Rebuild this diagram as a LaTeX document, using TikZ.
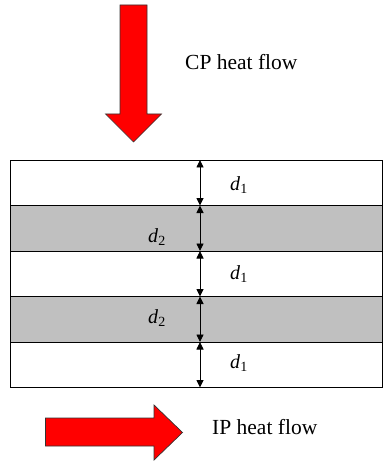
\documentclass[tikz,border=0pt]{standalone}
\usepackage{fontspec}
\setmainfont{Liberation Serif}
\usetikzlibrary{positioning,arrows.meta}
\definecolor{layergray}{RGB}{192,192,192}

\begin{document}
\begin{tikzpicture}[x=1pt,y=-1pt,
    layer/.style={draw,fill=#1,minimum width=372.5pt,minimum height=45.5pt,inner sep=0pt,outer sep=0pt,line width=0.8pt},
    dim/.style={{Triangle[length=7.5pt,width=7pt]}-{Triangle[length=7.5pt,width=7pt]},line width=0.9pt},
    flow/.style={fill=red,draw=black!80,line width=0.7pt},
    lbl/.style={font=\fontsize{20}{24}\selectfont,inner sep=0pt},
    caption/.style={font=\fontsize{21.5}{25}\selectfont,inner sep=0pt,anchor=base west}]
    \useasboundingbox (0,0) rectangle (382,462);

    % layers
    \node[layer=white] (l_1) at (196.25,182.75) {};
    \node[layer=layergray] [below=0pt of l_1] (l_2) {};
    \node[layer=white] [below=0pt of l_2] (l_3) {};
    \node[layer=layergray] [below=0pt of l_3] (l_4) {};
    \node[layer=white] [below=0pt of l_4] (l_5) {};

    % thickness arrows
    \coordinate (ax) at (200,0);
    \draw[dim] (l_1.north -| ax) -- (l_1.south -| ax);
    \draw[dim] (l_2.north -| ax) -- (l_2.south -| ax);
    \draw[dim] (l_3.north -| ax) -- (l_3.south -| ax);
    \draw[dim] (l_4.north -| ax) -- (l_4.south -| ax);
    \draw[dim] (l_5.north -| ax) -- (l_5.south -| ax);

    \node[lbl] (d_1) at (239,185) {\textit{d}\textsubscript{1}};
    \node[lbl] (d_2) at (157,237) {\textit{d}\textsubscript{2}};
    \node[lbl] (d_3) at (239,274) {\textit{d}\textsubscript{1}};
    \node[lbl] (d_4) at (157,318) {\textit{d}\textsubscript{2}};
    \node[lbl] (d_5) at (239,363) {\textit{d}\textsubscript{1}};

    % heat flow arrows
    \draw[flow] (120,5) -- (147,5) -- (147,114) -- (161.5,114) -- (133.5,142)
        -- (105.5,114) -- (120,114) -- cycle;
    \draw[flow] (45.5,418) -- (154,418) -- (154,405) -- (182.5,432.5)
        -- (154,460) -- (154,446) -- (45.5,446) -- cycle;

    \node[caption] (cp) at (185,70) {CP heat flow};
    \node[caption] (ip) at (212,434) {IP heat flow};
\end{tikzpicture}
\end{document}
